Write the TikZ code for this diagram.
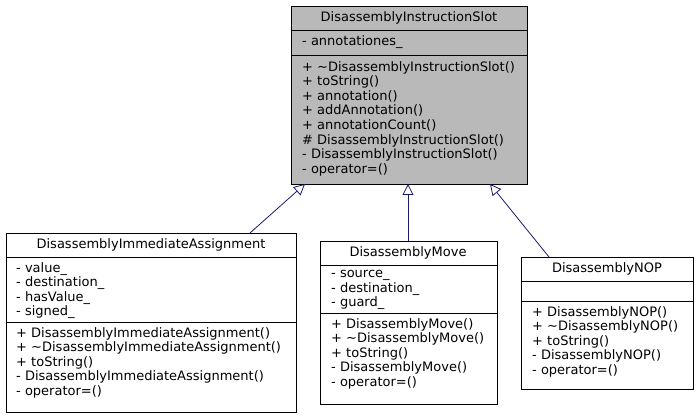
\documentclass[tikz,border=0pt]{standalone}
\usepackage{fontspec}
\setmainfont{DejaVu Sans}
\usetikzlibrary{arrows.meta}
\begin{document}
\begin{tikzpicture}[x=1pt,y=-1pt,
  box/.style={draw=black,line width=0.8pt},
  txt/.style={anchor=north west,inner sep=0pt,align=left,font=\fontsize{13}{14.6}\selectfont},
  ttl/.style={anchor=center,inner sep=0pt,font=\fontsize{13}{14.6}\selectfont},
  inh/.style={draw={rgb,255:red,25;green,25;blue,112},line width=0.8pt,-{Triangle[open,length=11pt,width=11pt]}}]
\useasboundingbox (0,0) rectangle (699,419);
% top
\fill[gray!55] (291,6) rectangle (527,184);
\draw[box] (291,6) rectangle (527,184) (291,30)--(527,30) (291,55)--(527,55);
\node[ttl] (top) at (409,18) {DisassemblyInstructionSlot};
\node[txt] (topa) at (302,35) {- annotationes\_};
\node[txt] (topm) at (302,61) {+ \textasciitilde DisassemblyInstructionSlot()\\+ toString()\\+ annotation()\\+ addAnnotation()\\+ annotationCount()\\\# DisassemblyInstructionSlot()\\- DisassemblyInstructionSlot()\\- operator=()};
\coordinate (tb) at (409,184);
% left
\draw[box,fill=white] (6,233) rectangle (296,412);
\draw[box] (6,257)--(296,257) (6,322)--(296,322);
\node[ttl] (l) at (151,245) {DisassemblyImmediateAssignment};
\node[txt] (la) at (16,262) {- value\_\\- destination\_\\- hasValue\_\\- signed\_};
\node[txt] (lm) at (16,327) {+ DisassemblyImmediateAssignment()\\+ \textasciitilde DisassemblyImmediateAssignment()\\+ toString()\\- DisassemblyImmediateAssignment()\\- operator=()};
\coordinate (lt) at (250,233);
\coordinate (lh) at (305,184);
% middle
\draw[box,fill=white] (320,241) rectangle (497,404);
\draw[box] (320,265)--(497,265) (320,313)--(497,313);
\node[ttl] (m) at (408,253) {DisassemblyMove};
\node[txt] (ma) at (331,270) {- source\_\\- destination\_\\- guard\_};
\node[txt] (mm) at (331,318) {+ DisassemblyMove()\\+ \textasciitilde DisassemblyMove()\\+ toString()\\- DisassemblyMove()\\- operator=()};
\coordinate (mt) at (408,241);
\coordinate (mh) at (408,184);
% right
\draw[box,fill=white] (521,257) rectangle (693,389);
\draw[box] (521,281)--(693,281) (521,301)--(693,301);
\node[ttl] (r) at (607,269) {DisassemblyNOP};
\node[txt] (rm) at (532,306) {+ DisassemblyNOP()\\+ \textasciitilde DisassemblyNOP()\\+ toString()\\- DisassemblyNOP()\\- operator=()};
\coordinate (rt) at (549,257);
\coordinate (rh) at (490,184);
\draw[inh] (lt)--(lh);
\draw[inh] (mt)--(mh);
\draw[inh] (rt)--(rh);
\end{tikzpicture}
\end{document}
